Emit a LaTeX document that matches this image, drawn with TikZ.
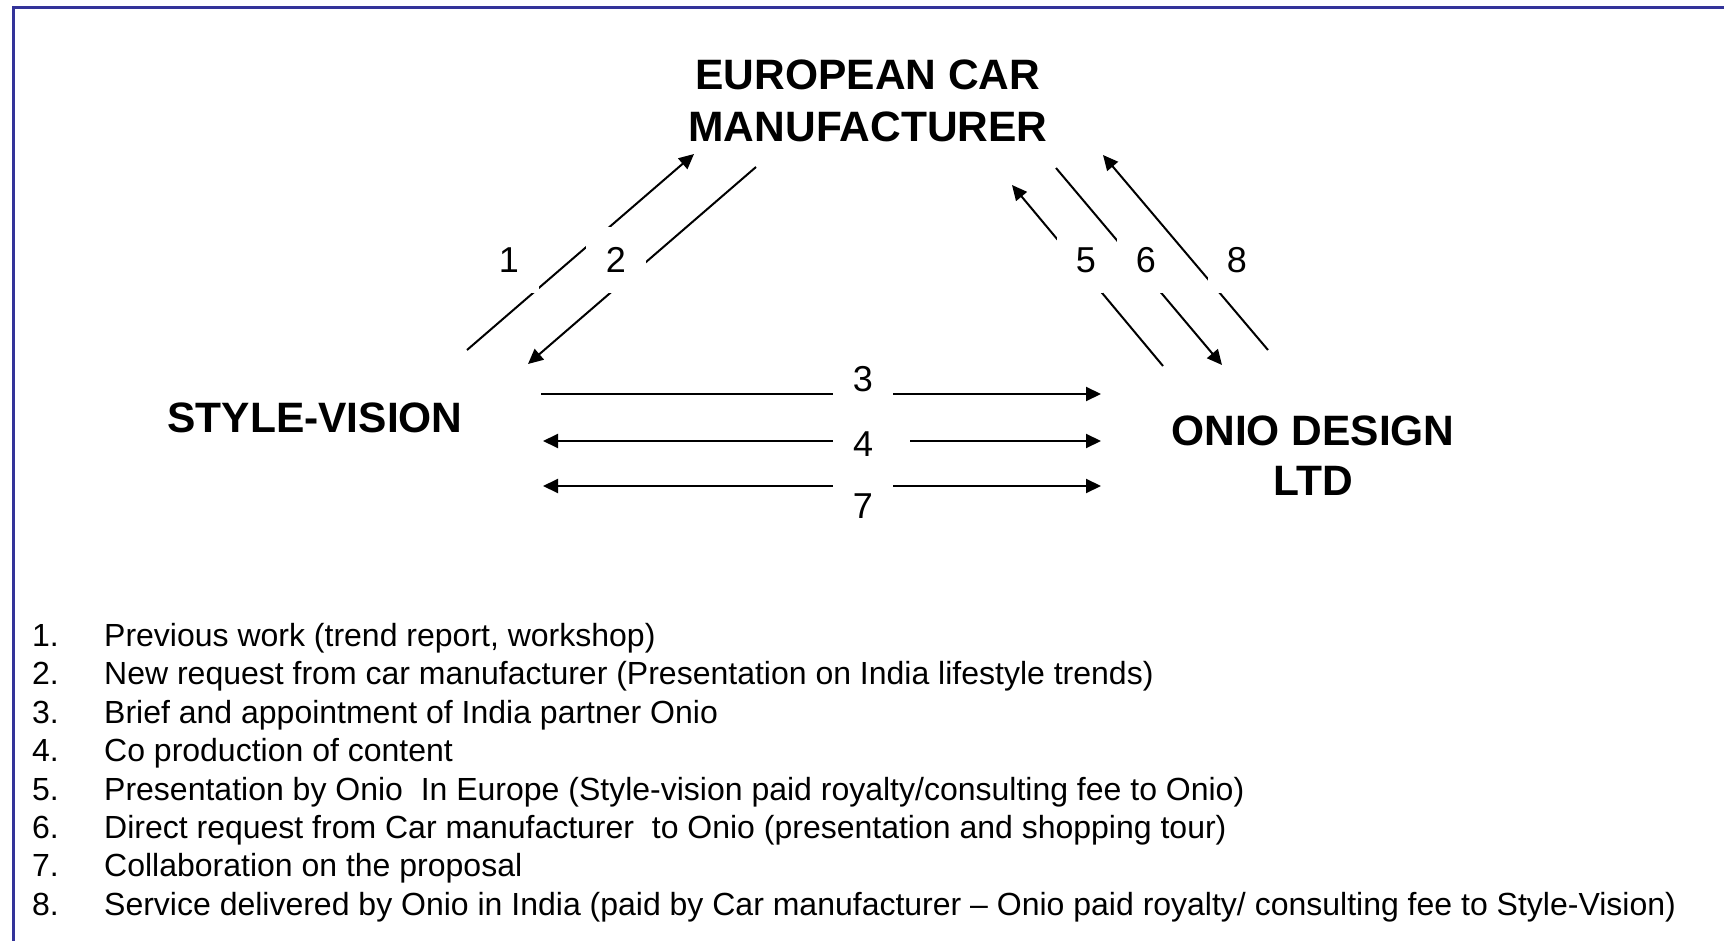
\documentclass[tikz,border=0pt]{standalone}
\usepackage{fontspec}
\setmainfont{Liberation Sans}
\usetikzlibrary{arrows.meta}
\definecolor{frameblue}{RGB}{51,51,153}
\tikzstyle{party}=[align=center, inner sep=0pt, font=\fontsize{42.5}{50}\selectfont\bfseries]
\tikzstyle{numbox}=[fill=white, inner sep=0pt, minimum width=60pt, minimum height=66pt, font=\fontsize{36}{40}\selectfont]
\tikzstyle{numboxr}=[numbox, minimum width=0pt, text width=32pt, inner xsep=7pt, align=right]
\tikzstyle{link}=[line width=2pt]
\tikzstyle{flow}=[link, -{Triangle[length=15pt,width=14pt]}]
\tikzstyle{flowboth}=[link, {Triangle[length=15pt,width=14pt]}-{Triangle[length=15pt,width=14pt]}]
\tikzstyle{listitem}=[anchor=base west, inner sep=0pt, font=\fontsize{32}{38}\selectfont]

\begin{document}
\begin{tikzpicture}[x=1pt,y=-1pt]
\useasboundingbox (0,0) rectangle (1724,941);
\draw[line width=3pt, frameblue] (13.5,941) -- (13.5,7.5) -- (1724,7.5);

% the three parties
\node[party] (ecm) at (868,100.5) {EUROPEAN CAR\\[2pt]MANUFACTURER};
\node[party] (sv) at (315,418) {STYLE-VISION};
\node[party] (onio) at (1313,456) {ONIO DESIGN\\LTD};

% arrow ends
\coordinate (a1s) at (467,350);  \coordinate (a1e) at (694,154);
\coordinate (a2s) at (756,167);  \coordinate (a2e) at (528,364);
\coordinate (a5s) at (1163,366); \coordinate (a5e) at (1012,185);
\coordinate (a6s) at (1056,168); \coordinate (a6e) at (1222,365);
\coordinate (a8s) at (1268,350); \coordinate (a8e) at (1103,155);
\coordinate (a3s) at (541,394);  \coordinate (a3e) at (1101,394);
\coordinate (a4s) at (543,441);  \coordinate (a4e) at (1101,441);
\coordinate (a7s) at (543,486);  \coordinate (a7e) at (1101,486);

\draw[flow] (a1s) -- (a1e);
\draw[flow] (a2s) -- (a2e);
\draw[flow] (a5s) -- (a5e);
\draw[flow] (a6s) -- (a6e);
\draw[flow] (a8s) -- (a8e);
\draw[flow] (a3s) -- (a3e);
\draw[flowboth] (a4s) -- (a4e);
\draw[flowboth] (a7s) -- (a7e);

% step numbers, white boxes over the lines
\node[numbox] (n1) at (509,260) {1};
\node[numbox] (n2) at (616,260) {2};
\node[numboxr] (n5) at (1080,260) {5};
\node[numboxr] (n6) at (1140,260) {6};
\node[numboxr] (n8) at (1231,260) {8};
\node[numbox] (n3) at (863,379) {3};
\node[numbox, text width=37pt, inner xsep=20pt, align=left] (n4) at (871.5,444) {4};
\node[numbox] (n7) at (863,506) {7};

% legend
\node[listitem] (item1) at (32,646.4) {\makebox[72pt][l]{1.}Previous work (trend report, workshop)};
\node[listitem] (item2) at (32,684.8) {\makebox[72pt][l]{2.}New request from car manufacturer (Presentation on India lifestyle trends)};
\node[listitem] (item3) at (32,723.2) {\makebox[72pt][l]{3.}Brief and appointment of India partner Onio};
\node[listitem] (item4) at (32,761.6) {\makebox[72pt][l]{4.}Co production of content};
\node[listitem] (item5) at (32,800.0) {\makebox[72pt][l]{5.}Presentation by Onio~ In Europe (Style-vision paid royalty/consulting fee to Onio)};
\node[listitem] (item6) at (32,838.4) {\makebox[72pt][l]{6.}Direct request from Car manufacturer~ to Onio (presentation and shopping tour)};
\node[listitem] (item7) at (32,876.8) {\makebox[72pt][l]{7.}Collaboration on the proposal};
\node[listitem] (item8) at (32,915.2) {\makebox[72pt][l]{8.}Service delivered by Onio in India (paid by Car manufacturer -- Onio paid royalty/ consulting fee to Style-Vision)};

\end{tikzpicture}
\end{document}
